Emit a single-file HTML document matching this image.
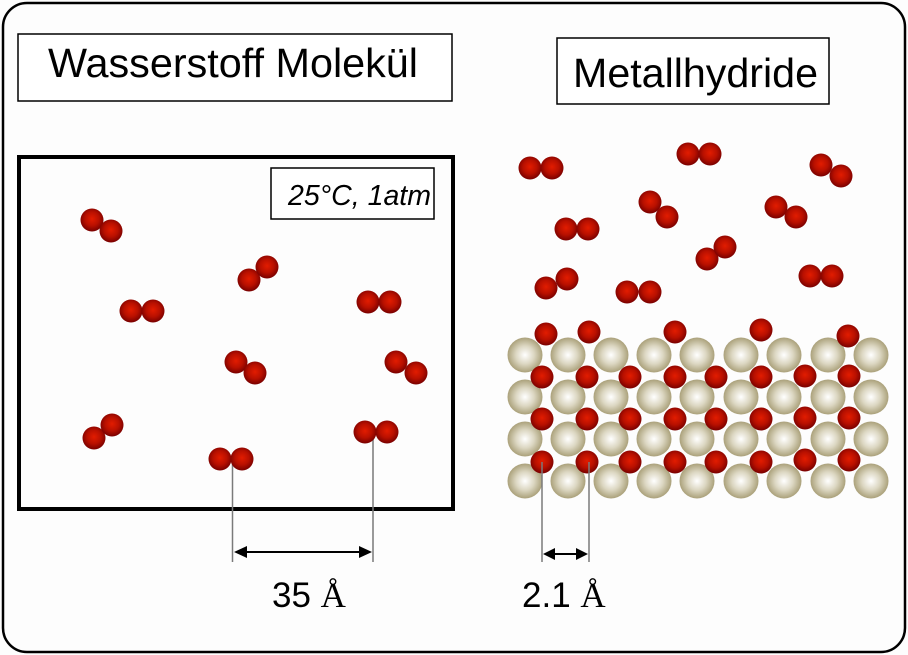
<!DOCTYPE html>
<html>
<head>
<meta charset="utf-8">
<style>
html,body{margin:0;padding:0;background:#fff;}
svg{display:block;}
</style>
</head>
<body>
<svg width="908" height="655" viewBox="0 0 908 655" xmlns="http://www.w3.org/2000/svg">
<defs>
  <radialGradient id="h" cx="50%" cy="45%" r="55%">
    <stop offset="0" stop-color="#e21c00"/>
    <stop offset="0.55" stop-color="#b81000"/>
    <stop offset="1" stop-color="#780000"/>
  </radialGradient>
  <radialGradient id="m" cx="50%" cy="50%" r="52%">
    <stop offset="0" stop-color="#ffffff"/>
    <stop offset="0.5" stop-color="#dcd7c2"/>
    <stop offset="1" stop-color="#a69c74"/>
  </radialGradient>
</defs>
<rect x="0" y="0" width="908" height="655" fill="#fdfdfd"/>
<!-- outer frame -->
<rect x="3" y="3" width="902" height="649" rx="24" ry="24" fill="#fdfdfd" stroke="#000" stroke-width="2.5"/>

<!-- titles -->
<rect x="18" y="34" width="434" height="67" fill="#fff" stroke="#000" stroke-width="1.5"/>
<text x="48" y="77" font-family="Liberation Sans, Arial, sans-serif" font-size="41" textLength="370" lengthAdjust="spacingAndGlyphs">Wasserstoff Molekül</text>
<rect x="557" y="38" width="272" height="66" fill="#fff" stroke="#000" stroke-width="1.5"/>
<text x="573" y="87" font-family="Liberation Sans, Arial, sans-serif" font-size="41" textLength="245" lengthAdjust="spacingAndGlyphs">Metallhydride</text>

<!-- left container -->
<rect x="19" y="157" width="434" height="352" fill="none" stroke="#000" stroke-width="4"/>
<rect x="271" y="168" width="163" height="51" fill="#fff" stroke="#000" stroke-width="1.5"/>
<text x="288" y="205" font-family="Liberation Sans, Arial, sans-serif" font-style="italic" font-size="29" textLength="143" lengthAdjust="spacingAndGlyphs">25°C, 1atm</text>

<!-- dimension lines left -->
<line x1="232.5" y1="459" x2="232.5" y2="562" stroke="#7a7a7a" stroke-width="1.5"/>
<line x1="373" y1="432" x2="373" y2="562" stroke="#7a7a7a" stroke-width="1.5"/>

<!-- left molecules -->
<g fill="url(#h)">
  <circle cx="92" cy="220" r="11.5"/><circle cx="111" cy="231" r="11.5"/>
  <circle cx="131" cy="311" r="11.5"/><circle cx="153" cy="311" r="11.5"/>
  <circle cx="249" cy="280" r="11.5"/><circle cx="267" cy="267" r="11.5"/>
  <circle cx="368" cy="302" r="11.5"/><circle cx="390" cy="302" r="11.5"/>
  <circle cx="236" cy="362" r="11.5"/><circle cx="255" cy="373" r="11.5"/>
  <circle cx="396" cy="362" r="11.5"/><circle cx="416" cy="373" r="11.5"/>
  <circle cx="94" cy="438" r="11.5"/><circle cx="112" cy="425" r="11.5"/>
  <circle cx="220" cy="459" r="11.5"/><circle cx="242" cy="459" r="11.5"/>
  <circle cx="365" cy="432" r="11.5"/><circle cx="387" cy="432" r="11.5"/>
</g>

<!-- left arrow -->
<line x1="244" y1="552" x2="362" y2="552" stroke="#000" stroke-width="2"/>
<polygon points="234,552 247,546 247,558" fill="#000"/>
<polygon points="372,552 359,546 359,558" fill="#000"/>
<text x="272" y="607" font-family="Liberation Sans, Arial, sans-serif" font-size="35">35 <tspan font-family="Liberation Serif, Times New Roman, serif">Å</tspan></text>

<!-- right free molecules -->
<g fill="url(#h)">
  <circle cx="530" cy="168" r="11.5"/><circle cx="552" cy="168" r="11.5"/>
  <circle cx="688" cy="154" r="11.5"/><circle cx="710" cy="154" r="11.5"/>
  <circle cx="821" cy="165" r="11.5"/><circle cx="841" cy="176" r="11.5"/>
  <circle cx="650" cy="202" r="11.5"/><circle cx="667" cy="217" r="11.5"/>
  <circle cx="776" cy="207" r="11.5"/><circle cx="796" cy="217" r="11.5"/>
  <circle cx="566" cy="229" r="11.5"/><circle cx="588" cy="229" r="11.5"/>
  <circle cx="707" cy="259" r="11.5"/><circle cx="725" cy="247" r="11.5"/>
  <circle cx="546" cy="288" r="11.5"/><circle cx="567" cy="279" r="11.5"/>
  <circle cx="627" cy="292" r="11.5"/><circle cx="650" cy="292" r="11.5"/>
  <circle cx="810" cy="276" r="11.5"/><circle cx="832" cy="276" r="11.5"/>
</g>

<!-- metal lattice -->
<g fill="url(#m)">
  <circle cx="525" cy="355" r="17.5"/><circle cx="568" cy="355" r="17.5"/><circle cx="611" cy="355" r="17.5"/><circle cx="654" cy="355" r="17.5"/><circle cx="697" cy="355" r="17.5"/><circle cx="741" cy="355" r="17.5"/><circle cx="784" cy="355" r="17.5"/><circle cx="828" cy="355" r="17.5"/><circle cx="871" cy="355" r="17.5"/>
  <circle cx="525" cy="397" r="17.5"/><circle cx="568" cy="397" r="17.5"/><circle cx="611" cy="397" r="17.5"/><circle cx="654" cy="397" r="17.5"/><circle cx="697" cy="397" r="17.5"/><circle cx="741" cy="397" r="17.5"/><circle cx="784" cy="397" r="17.5"/><circle cx="828" cy="397" r="17.5"/><circle cx="871" cy="397" r="17.5"/>
  <circle cx="525" cy="439" r="17.5"/><circle cx="568" cy="439" r="17.5"/><circle cx="611" cy="439" r="17.5"/><circle cx="654" cy="439" r="17.5"/><circle cx="697" cy="439" r="17.5"/><circle cx="741" cy="439" r="17.5"/><circle cx="784" cy="439" r="17.5"/><circle cx="828" cy="439" r="17.5"/><circle cx="871" cy="439" r="17.5"/>
  <circle cx="525" cy="481" r="17.5"/><circle cx="568" cy="481" r="17.5"/><circle cx="611" cy="481" r="17.5"/><circle cx="654" cy="481" r="17.5"/><circle cx="697" cy="481" r="17.5"/><circle cx="741" cy="481" r="17.5"/><circle cx="784" cy="481" r="17.5"/><circle cx="828" cy="481" r="17.5"/><circle cx="871" cy="481" r="17.5"/>
</g>

<!-- hydrogen in lattice -->
<g fill="url(#h)">
  <circle cx="546" cy="334" r="11.5"/><circle cx="589" cy="332" r="11.5"/><circle cx="675" cy="332" r="11.5"/><circle cx="761" cy="330" r="11.5"/><circle cx="848" cy="336" r="11.5"/>
  <circle cx="542" cy="377" r="11.5"/><circle cx="587" cy="377" r="11.5"/><circle cx="630" cy="377" r="11.5"/><circle cx="675" cy="377" r="11.5"/><circle cx="716" cy="377" r="11.5"/><circle cx="761" cy="377" r="11.5"/><circle cx="805" cy="376" r="11.5"/><circle cx="849" cy="376" r="11.5"/>
  <circle cx="542" cy="419" r="11.5"/><circle cx="587" cy="419" r="11.5"/><circle cx="630" cy="419" r="11.5"/><circle cx="675" cy="419" r="11.5"/><circle cx="716" cy="419" r="11.5"/><circle cx="761" cy="419" r="11.5"/><circle cx="805" cy="418" r="11.5"/><circle cx="849" cy="418" r="11.5"/>
  <circle cx="542" cy="462" r="11.5"/><circle cx="587" cy="462" r="11.5"/><circle cx="630" cy="462" r="11.5"/><circle cx="675" cy="462" r="11.5"/><circle cx="716" cy="462" r="11.5"/><circle cx="761" cy="462" r="11.5"/><circle cx="805" cy="460" r="11.5"/><circle cx="849" cy="460" r="11.5"/>
</g>

<!-- dimension lines right -->
<line x1="542" y1="462" x2="542" y2="562" stroke="#7a7a7a" stroke-width="1.5"/>
<line x1="589" y1="462" x2="589" y2="562" stroke="#7a7a7a" stroke-width="1.5"/>
<line x1="552" y1="554" x2="579" y2="554" stroke="#000" stroke-width="2"/>
<polygon points="543,554 555,548 555,560" fill="#000"/>
<polygon points="588,554 576,548 576,560" fill="#000"/>
<text x="522" y="607" font-family="Liberation Sans, Arial, sans-serif" font-size="35">2.1 <tspan font-family="Liberation Serif, Times New Roman, serif">Å</tspan></text>
</svg>
</body>
</html>
